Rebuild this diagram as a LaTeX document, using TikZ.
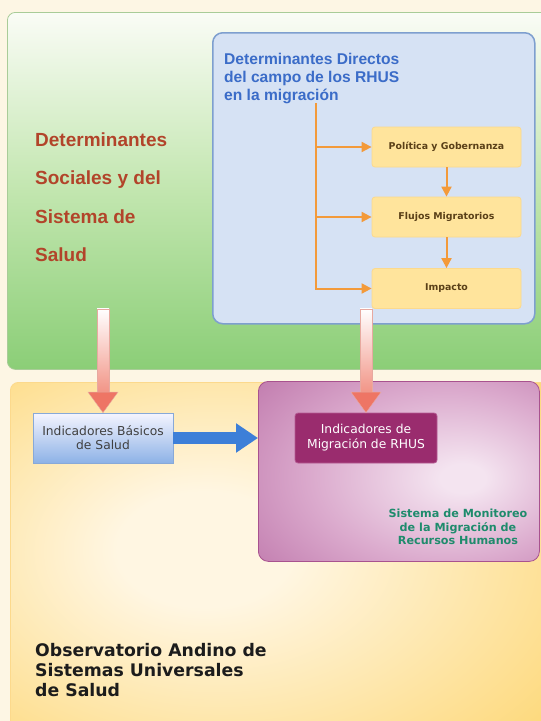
\documentclass[tikz,border=0pt]{standalone}
\usepackage{fontspec}
\setmainfont{Liberation Sans}
\newfontfamily\dvs{DejaVu Sans}
\usetikzlibrary{arrows.meta,calc}
\definecolor{bgc}{HTML}{FDF6E4}
\definecolor{gtop}{HTML}{FAFCF6}
\definecolor{gmid}{HTML}{C2E6AF}
\definecolor{gbot}{HTML}{8BCE77}
\definecolor{gedge}{HTML}{A9CC98}
\definecolor{bfill}{HTML}{D6E2F4}
\definecolor{bedge}{HTML}{7E9FCF}
\definecolor{yfill}{HTML}{FFE49C}
\definecolor{yedge}{HTML}{FCD98C}
\definecolor{orangec}{HTML}{F39A3A}
\definecolor{redtxt}{HTML}{B2442A}
\definecolor{bluetxt}{HTML}{3B6CC8}
\definecolor{browntxt}{HTML}{5A4018}
\definecolor{obsin}{HTML}{FFF6E2}
\definecolor{obsout}{HTML}{FDD46A}
\definecolor{sysin}{HTML}{F4E4F0}
\definecolor{sysmid}{HTML}{DBAACD}
\definecolor{sysmid2}{HTML}{BD74A9}
\definecolor{sysout}{HTML}{A8528F}
\definecolor{basbot}{HTML}{8DB2E6}
\definecolor{basedge}{HTML}{88A9D8}
\definecolor{migfill}{HTML}{9A2C6E}
\definecolor{migedge}{HTML}{B45A92}
\definecolor{arrowblue}{HTML}{3D7FD8}
\definecolor{pinkmid}{HTML}{F29486}
\definecolor{pinkhead}{HTML}{EE7565}
\definecolor{pinkedge}{HTML}{E7A9A0}
\definecolor{tealtxt}{HTML}{1E8B6C}
\definecolor{obstxtc}{HTML}{1C1C1C}
\definecolor{grytxt}{HTML}{404040}
\pgfdeclareradialshading{obsshade}{\pgfpoint{-8bp}{2bp}}{color(0bp)=(obsin); color(8bp)=(obsin); color(42bp)=(obsout); color(80bp)=(obsout)}
\pgfdeclareradialshading{sysshade}{\pgfpoint{12bp}{-2bp}}{color(0bp)=(sysin); color(4bp)=(sysin); color(24bp)=(sysmid); color(44bp)=(sysmid2); color(62bp)=(sysout); color(80bp)=(sysout)}
\newcommand\pinkarrowdraw[2]{%
  \shade[top color=white, bottom color=pinkmid, draw=pinkedge, line width=0.6pt]
    ($(#1)+(-6,0)$) rectangle ($(#2)+(6,-20)$);
  \fill[pinkhead, draw=pinkedge, line width=0.4pt]
    ($(#2)+(-15,-20.5)$) -- (#2) -- ($(#2)+(15,-20.5)$) -- cycle;}
\begin{document}
\begin{tikzpicture}[x=1pt,y=-1pt,
  greenbox/.style={draw=gedge, line width=0.8pt, rounded corners=8pt, top color=gtop, bottom color=gbot, middle color=gmid, anchor=north west, inner sep=0pt},
  bluebox/.style={draw=bedge, line width=1.5pt, fill=bfill, rounded corners=10pt, anchor=north west, inner sep=0pt},
  ybox/.style={draw=yedge, line width=0.8pt, fill=yfill, rounded corners=3pt, minimum width=149pt, minimum height=40pt, inner sep=0pt, font={\dvs\fontsize{9.4}{11}\selectfont\bfseries}, text=browntxt},
  oarrow/.style={draw=orangec, line width=2pt, -{Triangle[length=10pt,width=10pt]}},
  redtext/.style={anchor=north west, inner sep=0pt, align=left, text=redtxt, font={\fontsize{19}{38.5}\selectfont\bfseries}},
  titletext/.style={anchor=north west, inner sep=0pt, align=left, text=bluetxt, font={\fontsize{15.6}{18}\selectfont\bfseries}},
  obsbox/.style={draw=yedge, line width=0.8pt, shading=obsshade, rounded corners=8pt, anchor=north west, inner sep=0pt},
  sysbox/.style={draw=sysout, line width=0.8pt, shading=sysshade, rounded corners=10pt, anchor=north west, inner sep=0pt},
  basbox/.style={draw=basedge, line width=0.8pt, top color=white!96!blue, bottom color=basbot, minimum width=140pt, minimum height=50pt, inner sep=0pt, align=center, text=grytxt, font={\dvs\fontsize{12.3}{14}\selectfont}},
  migbox/.style={draw=migedge, line width=0.8pt, fill=migfill, rounded corners=3pt, minimum width=142pt, minimum height=50pt, inner sep=0pt, align=center, text=white, font={\dvs\fontsize{12.3}{15}\selectfont}},
  systext/.style={inner sep=0pt, align=center, text=tealtxt, font={\dvs\fontsize{11.2}{13.5}\selectfont\bfseries}},
  obstext/.style={anchor=north west, inner sep=0pt, align=left, text=obstxtc, font={\dvs\fontsize{17.3}{20}\selectfont\bfseries}},
  barrow/.style={draw=arrowblue, line width=12pt, -{Triangle[length=22pt,width=28pt]}}
]
\useasboundingbox (0,0) rectangle (541,721);
\fill[bgc] (0,0) rectangle (541,721);

% upper green region
\node[greenbox, minimum width=553pt, minimum height=357pt] (green) at (7,12) {};
\node[redtext] (dss) at (35,132.2) {Determinantes\\Sociales y del\\Sistema de\\Salud};

% blue panel
\node[bluebox, minimum width=322pt, minimum height=291pt] (dir) at (212,32) {};
\node[titletext] (title) at (224,52.5) {Determinantes Directos\\del campo de los RHUS\\en la migración};

\node[ybox] (pol) at (446.5,147) {Política y Gobernanza};
\node[ybox] (flu) at (446.5,217) {Flujos Migratorios};
\node[ybox] (imp) at (446.5,288.5) {Impacto};

\coordinate (trunk) at (316,103);
\draw[oarrow] (trunk) |- (imp.west);
\draw[oarrow] (trunk |- pol.west) -- (pol.west);
\draw[oarrow] (trunk |- flu.west) -- (flu.west);
\draw[oarrow] (pol.south) -- (flu.north);
\draw[oarrow] (flu.south) -- (imp.north);

% lower yellow region
\node[obsbox, minimum width=545pt, minimum height=360pt] (obs) at (10,382) {};
\node[sysbox, minimum width=281pt, minimum height=180pt] (sys) at (258,381) {};

\node[basbox] (bas) at (103,438) {Indicadores Básicos\\de Salud};
\node[migbox] (mig) at (366,438) {Indicadores de\\Migración de RHUS};
\node[systext] (systxt) at (458,527) {Sistema de Monitoreo\\de la Migración de\\Recursos Humanos};
\node[obstext] (obstxt) at (35,643.5) {Observatorio Andino de\\Sistemas Universales\\de Salud};

\draw[barrow] (bas.east) -- (sys.west |- bas.east);

% pink arrows
\pinkarrowdraw{bas.north |- imp.south}{bas.north}
\pinkarrowdraw{mig.north |- imp.south}{mig.north}
\end{tikzpicture}
\end{document}
